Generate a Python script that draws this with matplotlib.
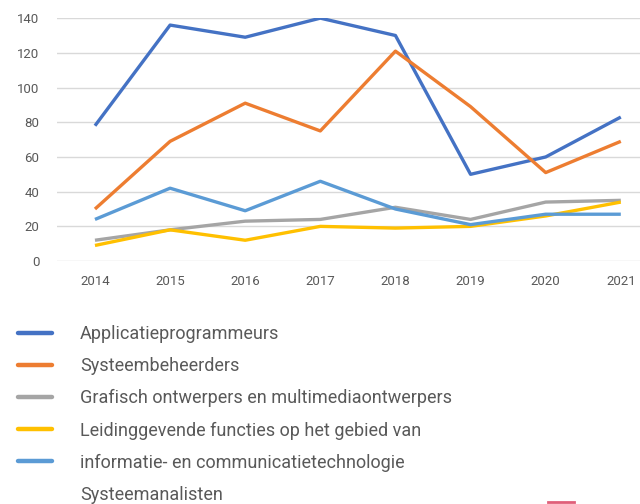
import matplotlib.pyplot as plt
from matplotlib.lines import Line2D

plt.rcParams['font.family'] = ['Roboto', 'DejaVu Sans']

years = ['2014', '2015', '2016', '2017', '2018', '2019', '2020', '2021']

applicatie = [78, 136, 129, 140, 130, 50, 60, 83]
systeembeheer = [30, 69, 91, 75, 121, 89, 51, 69]
grafisch = [12, 18, 23, 24, 31, 24, 34, 35]
leidinggevend = [9, 18, 12, 20, 19, 20, 26, 34]
systeemanalist = [24, 42, 29, 46, 30, 21, 27, 27]

series = [applicatie, systeembeheer, grafisch, leidinggevend, systeemanalist]
colors = ['#4472C4', '#ED7D31', '#A5A5A5', '#FFC000', '#5B9BD5']

# legend text as it is wrapped in the original
legend_labels = ['Applicatieprogrammeurs',
                 'Systeembeheerders',
                 'Grafisch ontwerpers en multimediaontwerpers',
                 'Leidinggevende functies op het gebied van',
                 'informatie- en communicatietechnologie',
                 'Systeemanalisten']

text_col = '#595959'

fig = plt.figure(figsize=(6.4, 5.04), dpi=100)
ax = fig.add_axes([0.0897, 0.482, 0.939, 0.482])

x = list(range(len(years)))
for vals, c in zip(series, colors):
    ax.plot(x, vals, color=c, linewidth=2.4, solid_capstyle='butt', zorder=3)

ax.set_xlim(-0.5, len(years) - 0.5)
ax.set_ylim(0, 140)
ax.set_yticks(range(0, 141, 20))
ax.set_xticks(x)
ax.set_xticklabels(years)
ax.grid(axis='y', color='#D9D9D9', linewidth=1)
ax.set_axisbelow(True)
for s in ax.spines.values():
    s.set_visible(False)
ax.tick_params(length=0, colors=text_col, labelsize=9.5)
ax.tick_params(axis='y', pad=13)
ax.tick_params(axis='x', pad=10)

handles = [Line2D([], [], color=c, linewidth=3.2, solid_capstyle='round') for c in colors]
handles.append(Line2D([], [], color='none'))
fig.legend(handles, legend_labels, loc='upper left', bbox_to_anchor=(0.028, 0.355),
           frameon=False, fontsize=13, labelcolor=text_col,
           handlelength=1.88, handletextpad=1.55, labelspacing=0.78,
           borderaxespad=0, borderpad=0)

fig.add_artist(Line2D([0.857, 0.897], [0.003, 0.003], color='#E0607A', linewidth=2))

fig.savefig('out.png', dpi=100)
